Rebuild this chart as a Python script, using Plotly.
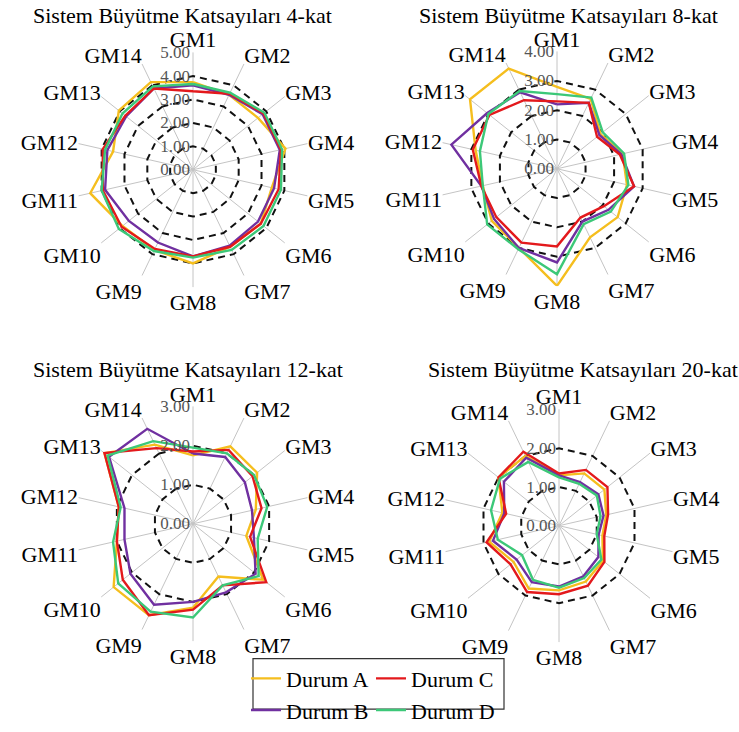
import plotly.graph_objects as go

categories = ["GM1", "GM2", "GM3", "GM4", "GM5", "GM6", "GM7",
              "GM8", "GM9", "GM10", "GM11", "GM12", "GM13", "GM14"]
series_names = ["Durum A", "Durum B", "Durum C", "Durum D"]
titles = ["Sistem Büyütme Katsayıları 4-kat", "Sistem Büyütme Katsayıları 8-kat",
          "Sistem Büyütme Katsayıları 12-kat", "Sistem Büyütme Katsayıları 20-kat"]
radial_max = [5, 4, 3, 3]

# 4-kat
A4 = [3.74, 3.55, 3.55, 4.05, 3.45, 3.70, 3.65, 4.00, 3.80, 3.85, 4.50, 3.50, 4.05, 4.15]
B4 = [3.60, 3.55, 3.80, 3.80, 3.55, 3.55, 3.60, 3.70, 3.45, 3.50, 3.85, 3.75, 3.65, 3.85]
C4 = [3.35, 3.60, 3.85, 3.85, 3.75, 3.70, 3.65, 3.70, 3.75, 3.90, 3.95, 3.95, 3.70, 3.85]
D4 = [3.66, 3.65, 3.90, 3.90, 3.85, 3.85, 3.80, 3.75, 3.85, 4.05, 4.00, 3.85, 3.85, 3.95]
# 8-kat
A8 = [2.80, 2.65, 1.90, 2.30, 2.45, 2.65, 2.60, 4.00, 3.00, 2.85, 2.60, 2.85, 3.80, 3.80]
B8 = [2.20, 2.50, 1.85, 2.25, 2.70, 2.25, 2.00, 3.20, 3.00, 2.75, 2.65, 3.70, 3.05, 2.90]
C8 = [2.30, 2.50, 1.75, 2.20, 2.70, 2.05, 1.85, 2.65, 2.80, 2.65, 2.65, 2.95, 2.95, 2.60]
D8 = [2.55, 2.70, 2.00, 2.35, 2.50, 2.35, 2.10, 3.60, 3.05, 3.05, 2.60, 2.70, 3.00, 2.95]
# 12-kat
A12 = [1.75, 2.20, 2.10, 1.65, 1.40, 2.30, 1.50, 2.15, 2.60, 2.60, 2.00, 1.95, 2.90, 2.25]
B12 = [1.80, 1.90, 1.70, 1.55, 1.60, 2.05, 1.95, 2.00, 2.30, 2.05, 1.80, 1.80, 2.75, 2.70]
C12 = [1.85, 2.10, 1.95, 1.80, 1.50, 2.40, 1.75, 2.20, 2.60, 2.30, 2.00, 1.95, 2.90, 2.15]
D12 = [1.95, 2.00, 2.00, 1.95, 1.70, 2.15, 1.75, 2.40, 2.50, 2.45, 2.10, 1.90, 2.80, 2.35]
# 20-kat
A20 = [1.30, 1.50, 1.50, 1.25, 1.15, 1.45, 1.60, 1.67, 1.80, 1.50, 1.85, 1.50, 2.00, 2.00]
B20 = [1.30, 1.25, 1.30, 1.18, 1.05, 1.30, 1.45, 1.57, 1.62, 1.40, 1.75, 1.45, 1.82, 1.95]
C20 = [1.35, 1.60, 1.60, 1.30, 1.20, 1.50, 1.72, 1.77, 1.90, 1.60, 1.92, 1.40, 2.00, 2.12]
D20 = [1.25, 1.20, 1.25, 1.10, 1.00, 1.40, 1.50, 1.60, 1.55, 1.22, 1.62, 1.80, 1.95, 1.83]

panels = [[A4, B4, C4, D4], [A8, B8, C8, D8], [A12, B12, C12, D12], [A20, B20, C20, D20]]
colors = ["#F5BE1E", "#7030A0", "#E3191C", "#3CC878"]
legend_of = ["legend", "legend", "legend2", "legend2"]

W, H = 739, 732
# panel centres and radii (pixels)
centres = [(193, 175, 121), (557, 174, 121), (193, 540, 121), (559, 542, 120)]
title_pos = [(182, 16), (568, 16), (188, 381), (583, 381)]

FONT = "Liberation Serif"
fig = go.Figure()

for p, series in enumerate(panels):
    pname = "polar" if p == 0 else f"polar{p + 1}"
    for s, vals in enumerate(series):
        fig.add_trace(go.Scatterpolar(
            r=vals + vals[:1], theta=categories + categories[:1],
            mode="lines", line=dict(color=colors[s], width=2.4),
            name=series_names[s], subplot=pname,
            showlegend=(p == 0), legend=legend_of[s]))
    cx, cy, R = centres[p]
    rmax = radial_max[p]
    fig.layout[pname] = dict(
        domain=dict(x=[(cx - R) / W, (cx + R) / W], y=[(H - cy - R) / H, (H - cy + R) / H]),
        gridshape="linear",
        bgcolor="white",
        radialaxis=dict(range=[0, rmax * 1.002], tickvals=list(range(rmax + 1)), tickformat=".2f",
                        angle=90, tickangle=90, side="counterclockwise",
                        showline=False, gridcolor="#111", griddash="7px,5px", gridwidth=1.7,
                        tickfont=dict(family=FONT, size=17, color="#555"), ticks=""),
        angularaxis=dict(direction="clockwise", rotation=90, showline=False,
                         gridcolor="#c4c4c4", gridwidth=1,
                         tickfont=dict(family=FONT, size=22, color="black"),
                         ticks=""),
    )
    tx, ty = title_pos[p]
    fig.add_annotation(text=titles[p], x=tx / W, y=1 - ty / H, xref="paper", yref="paper",
                       showarrow=False, xanchor="center", yanchor="middle",
                       font=dict(family=FONT, size=22, color="black"))

fig.add_shape(type="rect", xref="paper", yref="paper",
              x0=253 / W, x1=504 / W, y0=1 - 731 / H, y1=1 - 679 / H,
              line=dict(color="#333", width=1.2), fillcolor="rgba(0,0,0,0)")

leg_common = dict(orientation="v", xanchor="left", yanchor="top", bgcolor="rgba(0,0,0,0)",
                  font=dict(family=FONT, size=22, color="black"), tracegroupgap=0,
                  itemwidth=30)
fig.update_layout(
    width=W, height=H, margin=dict(l=0, r=0, t=0, b=0),
    paper_bgcolor="white", plot_bgcolor="white",
    legend=dict(x=246 / W, y=1 - 678 / H, **leg_common),
    legend2=dict(x=371 / W, y=1 - 678 / H, **leg_common),
)

fig.write_html("out.html", config={"displayModeBar": False},
               post_script="document.body.style.margin='0';document.body.style.overflow='hidden';")
